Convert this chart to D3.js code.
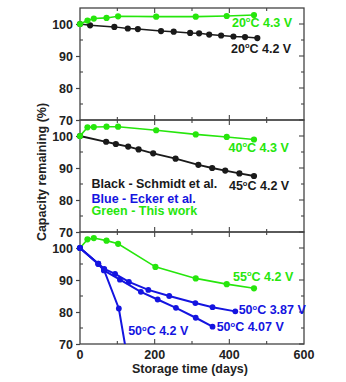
<!DOCTYPE html>
<html>
<head>
<meta charset="utf-8">
<script src="https://cdn.jsdelivr.net/npm/d3@7"></script>
<style>
  html, body { margin: 0; padding: 0; background: #fff; }
  svg text { font-family: "Liberation Sans", Arial, sans-serif; font-weight: bold; }
</style>
</head>
<body>
<svg id="chart" width="346" height="382"></svg>
<script>
// Storage time (days) and capacity remaining (%) for each cell condition
const days20_43 = [0, 20, 37, 71, 102, 204, 310, 393, 466];
const cap20_43  = [100, 101.1, 101.7, 101.9, 102.4, 102.3, 102.3, 102.5, 102.8];

const days20_42 = [0, 27, 92, 128, 155, 217, 251, 295, 319, 346, 378, 411, 442, 475];
const cap20_42  = [100, 99.6, 99.1, 98.6, 98.4, 97.8, 97.6, 97.2, 97.1, 96.7, 96.4, 96.1, 95.9, 95.6];

const days40_43 = [0, 20, 37, 71, 102, 204, 310, 393, 466];
const cap40_43  = [100, 102.7, 102.8, 102.9, 102.9, 101.8, 100.5, 99.7, 98.9];

const days45_42 = [0, 70, 96, 129, 157, 196, 256, 317, 354, 389, 427, 466];
const cap45_42  = [100, 98.2, 97.5, 96.7, 95.8, 94.6, 92.9, 91.0, 90.0, 89.2, 88.3, 87.5];

const days55_42 = [0, 20, 37, 71, 102, 202, 310, 393, 466];
const cap55_42  = [100, 102.7, 103.1, 102.3, 101.3, 94.1, 90.5, 88.7, 87.4];

const days50_387 = [0, 49, 65, 94, 131, 183, 239, 309, 355, 416];
const cap50_387  = [100, 95.1, 93.5, 91.9, 89.4, 86.9, 85.0, 82.8, 81.5, 80.2];

const days50_407 = [0, 49, 64, 107, 163, 208, 257, 310, 355];
const cap50_407  = [100, 95.0, 93.0, 90.1, 86.3, 83.9, 81.3, 78.2, 75.4];

const days50_42 = [0, 49, 64, 104, 140];
const cap50_42  = [100, 95.1, 93.2, 81.1, 56.6];

const xTicks = [0, 200, 400, 600];
const yTicks = [70, 80, 90, 100];

const GREEN = "#26e60c", BLACK = "#1a1a1a", BLUE = "#1414e0", INK = "#222";

const svg = d3.select("#chart");
const x = d3.scaleLinear().domain([0, 600]).range([80, 304]);

const panelTops = [8, 120, 232];
const panelH = 112;
const yScales = panelTops.map(t => d3.scaleLinear().domain([70, 105]).range([t + panelH, t]));

const zip = (d, v) => d.map((di, i) => ({ d: di, v: v[i] }));

const panels = [
  { series: [
      { data: zip(days20_42, cap20_42), color: BLACK, w: 1.5, r: 3.1 },
      { data: zip(days20_43, cap20_43), color: GREEN, w: 1.6, r: 3.1 } ],
    labels: [
      { t: ["20", "C 4.3 V"], d: 407, v: 99.2, color: GREEN },
      { t: ["20", "C 4.2 V"], d: 404.5, v: 91.0, color: BLACK } ] },
  { series: [
      { data: zip(days45_42, cap45_42), color: BLACK, w: 1.8, r: 3.1 },
      { data: zip(days40_43, cap40_43), color: GREEN, w: 1.6, r: 3.1 } ],
    labels: [
      { t: ["40", "C 4.3 V"], d: 398, v: 95.1, color: GREEN },
      { t: ["45", "C 4.2 V"], d: 399, v: 83.1, color: BLACK },
      { plain: "Black - Schmidt et al.", d: 31, v: 83.8, color: BLACK },
      { plain: "Blue - Ecker et al.", d: 31, v: 79.2, color: BLUE },
      { plain: "Green - This work", d: 31, v: 75.2, color: GREEN } ] },
  { series: [
      { data: zip(days55_42, cap55_42), color: GREEN, w: 1.6, r: 3.1 },
      { data: zip(days50_42, cap50_42), color: BLUE, w: 2, r: 2.9 },
      { data: zip(days50_407, cap50_407), color: BLUE, w: 2, r: 2.9 },
      { data: zip(days50_387, cap50_387), color: BLUE, w: 2, r: 2.9 } ],
    labels: [
      { t: ["55", "C 4.2 V"], d: 410, v: 89.7, color: GREEN },
      { t: ["50", "C 3.87 V"], d: 425, v: 79.3, color: BLUE },
      { t: ["50", "C 4.07 V"], d: 366, v: 74.0, color: BLUE },
      { t: ["50", "C 4.2 V"], d: 129, v: 72.7, color: BLUE } ] }
];

const defs = svg.append("defs");

panels.forEach((p, i) => {
  const y = yScales[i];
  const top = panelTops[i];
  const g = svg.append("g");

  defs.append("clipPath").attr("id", "lclip" + i)
    .append("rect").attr("x", 70).attr("y", top - 6)
    .attr("width", 240).attr("height", panelH + 6);

  // ticks: y majors outward on the left, minors inward; inward on the right
  const yMinor = d3.range(75, 105, 10);
  const left = d3.axisLeft(y).tickValues(yTicks).tickSize(4).tickPadding(3);
  const ga = g.append("g").attr("transform", `translate(${x(0)},0)`).call(left);
  ga.select(".domain").remove();
  ga.selectAll("line").attr("stroke", "#444").attr("stroke-width", 1.2);
  ga.selectAll("text").attr("font-size", 12.5).attr("fill", INK).attr("dy", "0.36em");

  g.selectAll(".ymin").data(yMinor).join("line")
    .attr("x1", x(0)).attr("x2", x(0) + 3)
    .attr("y1", d => y(d)).attr("y2", d => y(d))
    .attr("stroke", "#444").attr("stroke-width", 1.1);
  g.selectAll(".yright").data(yTicks.concat(yMinor)).join("line")
    .attr("x1", x(600)).attr("x2", d => x(600) - (d % 10 === 0 ? 5 : 3))
    .attr("y1", d => y(d)).attr("y2", d => y(d))
    .attr("stroke", "#444").attr("stroke-width", 1.1);

  const xAll = d3.range(100, 600, 100);
  [top, top + panelH].forEach((edge, k) => {
    g.selectAll(".xt" + k).data(xAll).join("line")
      .attr("x1", d => x(d)).attr("x2", d => x(d))
      .attr("y1", edge)
      .attr("y2", d => edge + (k === 0 ? 1 : -1) * (d % 200 === 0 ? 5 : 3))
      .attr("stroke", "#444").attr("stroke-width", 1.1);
  });

  // frame
  g.append("rect").attr("x", x(0)).attr("y", top)
    .attr("width", x(600) - x(0)).attr("height", panelH)
    .attr("fill", "none").attr("stroke", "#444").attr("stroke-width", 1.3);

  const line = d3.line().x(d => x(d.d)).y(d => y(d.v));
  p.series.forEach(s => {
    g.append("path").datum(s.data)
      .attr("clip-path", `url(#lclip${i})`)
      .attr("d", line).attr("fill", "none")
      .attr("stroke", s.color).attr("stroke-width", s.w);
    g.append("g").attr("clip-path", `url(#lclip${i})`)
      .selectAll("circle").data(s.data.filter(d => d.v >= 70)).join("circle")
      .attr("cx", d => x(d.d)).attr("cy", d => y(d.v)).attr("r", s.r)
      .attr("fill", s.color);
  });

  p.labels.forEach(l => {
    const t = g.append("text").attr("x", x(l.d)).attr("y", y(l.v))
      .attr("font-size", 12.5).attr("fill", l.color);
    if (l.plain) { t.text(l.plain); return; }
    t.append("tspan").text(l.t[0]);
    t.append("tspan").text("o").attr("font-size", 7.5).attr("dy", -4.5);
    t.append("tspan").text(l.t[1]).attr("dy", 4.5);
  });
});

// x axis labels along the bottom panel
const yb = panelTops[2] + panelH;
svg.append("g").selectAll("text").data(xTicks).join("text")
  .attr("x", d => x(d)).attr("y", yb + 14.5)
  .attr("text-anchor", "middle").attr("font-size", 12.5).attr("fill", INK)
  .text(d => d);

svg.append("text").attr("x", 190).attr("y", 373)
  .attr("text-anchor", "middle").attr("font-size", 12.5).attr("fill", INK)
  .text("Storage time (days)");

svg.append("text").attr("transform", "translate(46,172) rotate(-90)")
  .attr("text-anchor", "middle").attr("font-size", 12.5).attr("fill", INK)
  .text("Capacity remaining (%)");
</script>
</body>
</html>
